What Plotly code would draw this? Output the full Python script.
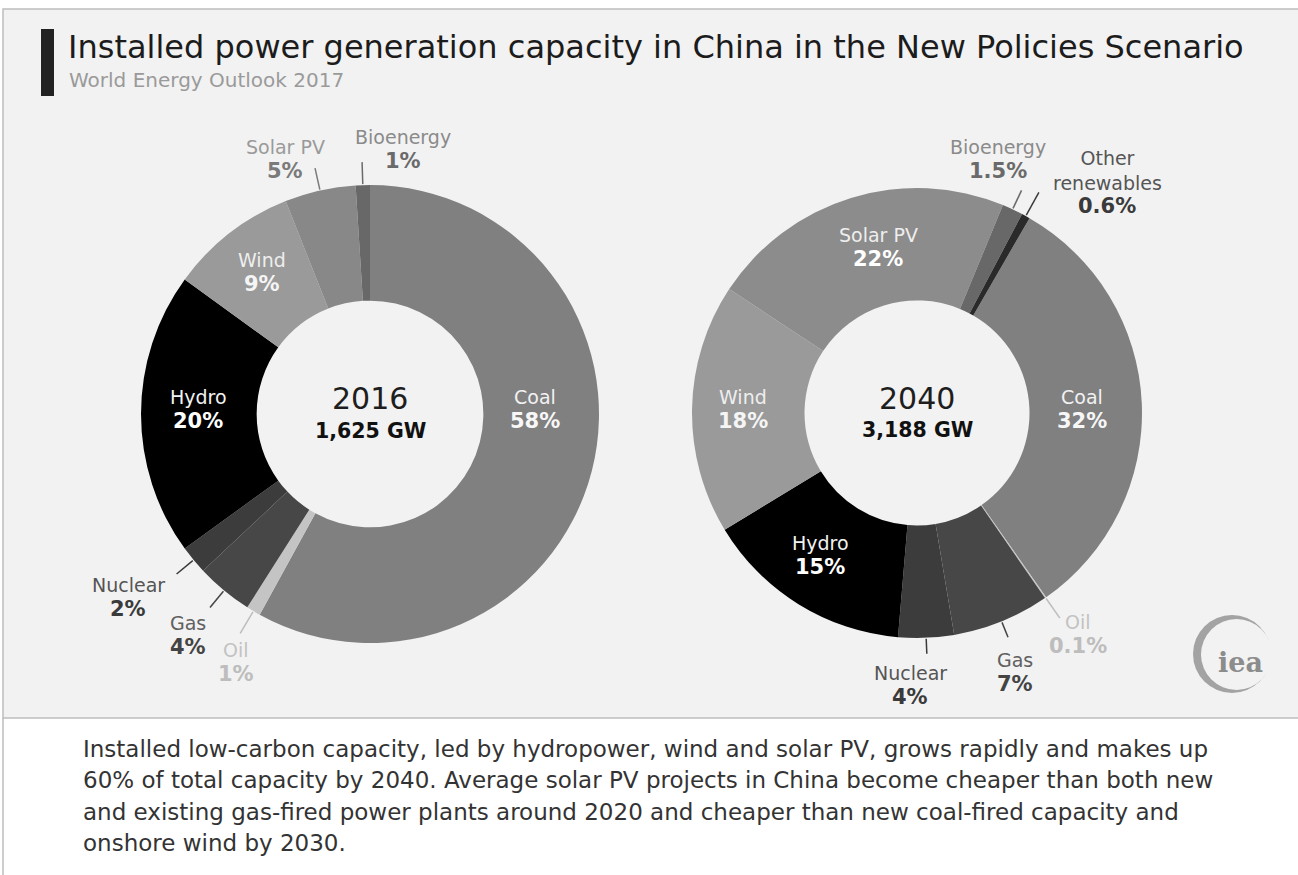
import math
import plotly.graph_objects as go

W, H = 1298, 875

# ---- data -------------------------------------------------------------
sources_2016 = ["Coal", "Oil", "Gas", "Nuclear", "Hydro", "Wind", "Solar PV", "Bioenergy"]
share_2016 = [58, 1, 4, 2, 20, 9, 5, 1]
total_2016_gw = 1625

sources_2040 = ["Coal", "Oil", "Gas", "Nuclear", "Hydro", "Wind", "Solar PV",
                "Bioenergy", "Other renewables"]
share_2040 = [32, 0.1, 7, 4, 15, 18, 22, 1.5, 0.6]
total_2040_gw = 3188

title = "Installed power generation capacity in China in the New Policies Scenario"
subtitle = "World Energy Outlook 2017"
caption_lines = [
    "Installed low-carbon capacity, led by hydropower, wind and solar PV, grows rapidly and makes up",
    "60% of total capacity by 2040. Average solar PV projects in China become cheaper than both new",
    "and existing gas-fired power plants around 2020 and cheaper than new coal-fired capacity and",
    "onshore wind by 2030.",
]

# ---- styling ----------------------------------------------------------
FONT = "DejaVu Sans"
NAME_SIZE = 19
PCT_SIZE = 21
colors = {
    "Coal": "#808080", "Oil": "#c4c4c4", "Gas": "#474747", "Nuclear": "#3c3c3c",
    "Hydro": "#000000", "Wind": "#9a9a9a", "Solar PV": "#888888",
    "Bioenergy": "#686868", "Other renewables": "#2a2a2a",
}
colors_2040 = dict(colors, **{"Solar PV": "#8c8c8c"})

# donut geometry in pixels: centre x, centre y, outer radius, hole fraction, rotation
donuts = {
    "2016": dict(cx=370, cy=414, r=229, hole=0.495, rotation=0),
    "2040": dict(cx=917, cy=413, r=225, hole=0.5, rotation=30),
}

# label placement (pixel centres of the name line) and text colours
# kind: "in" = label sits on the ring, "out" = label outside with a leader line
labels_2016 = {
    "Coal": dict(x=535, y=397, kind="in", c1="#f2f2f2", c2="#f7f7f7"),
    "Hydro": dict(x=198, y=397, kind="in", c1="#f2f2f2", c2="#ffffff"),
    "Wind": dict(x=262, y=260, kind="in", c1="#eeeeee", c2="#f5f5f5"),
    "Solar PV": dict(x=285, y=147, kind="out", lead=23, c1="#9a9a9a", c2="#7a7a7a"),
    "Bioenergy": dict(x=403, y=137, kind="out", lead=23, c1="#8a8a8a", c2="#6a6a6a"),
    "Nuclear": dict(x=128, y=585, kind="out", lead=22, c1="#555555", c2="#3a3a3a"),
    "Gas": dict(x=188, y=623, kind="out", lead=22, c1="#606060", c2="#444444"),
    "Oil": dict(x=236, y=650, kind="out", lead=26, c1="#c2c2c2", c2="#bdbdbd"),
}
labels_2040 = {
    "Coal": dict(x=1082, y=397, kind="in", c1="#f2f2f2", c2="#f7f7f7"),
    "Solar PV": dict(x=878, y=235, kind="in", c1="#eeeeee", c2="#ffffff"),
    "Wind": dict(x=743, y=397, kind="in", c1="#eeeeee", c2="#f5f5f5"),
    "Hydro": dict(x=820, y=543, kind="in", c1="#f2f2f2", c2="#ffffff"),
    "Bioenergy": dict(x=998, y=147, kind="out", lead=21, c1="#8a8a8a", c2="#6a6a6a"),
    "Other renewables": dict(x=1107, y=170, kind="out", lead=27, c1="#555555", c2="#3a3a3a",
                             text="Other<br>renewables"),
    "Nuclear": dict(x=910, y=673, kind="out", lead=16, c1="#555555", c2="#3a3a3a"),
    "Gas": dict(x=1015, y=660, kind="out", lead=17, c1="#606060", c2="#444444"),
    "Oil": dict(x=1078, y=622, kind="out", lead=25, c1="#c2c2c2", c2="#bdbdbd"),
}


def px(x):
    return x / W


def py(y):
    return 1 - y / H


fig = go.Figure()
shapes = []
annotations = []


def note(x, y, text, size, color, family=FONT, xanchor="center"):
    annotations.append(dict(x=px(x), y=py(y), xref="paper", yref="paper", text=text,
                            showarrow=False, xanchor=xanchor, yanchor="middle",
                            font=dict(family=family, size=size, color=color)))


# background panel and the title bar
shapes.append(dict(type="rect", xref="paper", yref="paper", x0=px(3), x1=px(W + 5),
                   y0=py(718), y1=py(9), fillcolor="#f2f2f2",
                   line=dict(color="#bdbdbd", width=1.5), layer="below"))
shapes.append(dict(type="line", xref="paper", yref="paper", x0=px(3), x1=px(3),
                   y0=py(718), y1=py(H + 2), line=dict(color="#bdbdbd", width=1.5),
                   layer="below"))
shapes.append(dict(type="rect", xref="paper", yref="paper", x0=px(41), x1=px(54),
                   y0=py(96), y1=py(29), fillcolor="#222222", line=dict(width=0)))


def add_donut(year, sources, shares, total_gw, labels, palette):
    g = donuts[year]
    cx, cy, r = g["cx"], g["cy"], g["r"]
    fig.add_trace(go.Pie(
        labels=sources, values=shares, sort=False, direction="clockwise",
        rotation=g["rotation"], hole=g["hole"], textinfo="none",
        marker=dict(colors=[palette[s] for s in sources], line=dict(width=0)),
        domain=dict(x=[px(cx - r), px(cx + r)], y=[py(cy + r), py(cy - r)]),
        showlegend=False, hovertemplate="%{label}: %{value}%<extra>" + year + "</extra>",
        name=year,
    ))

    # centre text
    note(cx, cy - 15, year, 30, "#1e1e1e")
    note(cx, cy + 17, f"<b>{total_gw:,} GW</b>", 20.5, "#111111")

    tot = sum(shares)
    start = 90 - g["rotation"]
    cum = 0
    for s, v in zip(sources, shares):
        mid = math.radians(start - (cum + v / 2) / tot * 360)
        cum += v
        lab = labels.get(s)
        if lab is None:
            continue
        name = lab.get("text", s)
        nlines = name.count("<br>") + 1
        note(lab["x"], lab["y"], name, NAME_SIZE, lab["c1"])
        note(lab["x"], lab["y"] + 12 * (nlines - 1) + 24, f"<b>{v:g}%</b>",
             PCT_SIZE, lab["c2"])
        if lab["kind"] == "out":
            r0, r1 = r + 1, r + lab["lead"]
            shapes.append(dict(type="line", xref="paper", yref="paper",
                               x0=px(cx + r0 * math.cos(mid)), y0=py(cy - r0 * math.sin(mid)),
                               x1=px(cx + r1 * math.cos(mid)), y1=py(cy - r1 * math.sin(mid)),
                               line=dict(color=lab["c2"], width=1.5)))


add_donut("2016", sources_2016, share_2016, total_2016_gw, labels_2016, colors)
add_donut("2040", sources_2040, share_2040, total_2040_gw, labels_2040, colors_2040)

# title block
note(66, 47, title, 32, "#1c1c1c", xanchor="left")
note(67, 80, subtitle, 20, "#9a9a9a", xanchor="left")

# iea mark: crescent ring plus lettering
shapes.append(dict(type="circle", xref="paper", yref="paper", x0=px(1193), x1=px(1271),
                   y0=py(693), y1=py(615), fillcolor="#a3a3a3", line=dict(width=0)))
shapes.append(dict(type="circle", xref="paper", yref="paper", x0=px(1201), x1=px(1272),
                   y0=py(690), y1=py(619), fillcolor="#f2f2f2", line=dict(width=0)))
note(1216, 662, "<b>iea</b>", 27, "#8c8c8c", family="DejaVu Serif", xanchor="left")

# caption under the panel
for i, line in enumerate(caption_lines):
    note(81, 749 + 31.3 * i, line, 23, "#333333", xanchor="left")

fig.update_layout(
    width=W, height=H, margin=dict(l=0, r=0, t=0, b=0),
    paper_bgcolor="#ffffff", plot_bgcolor="#ffffff",
    shapes=shapes, annotations=annotations,
)

fig.write_html("out.html")
